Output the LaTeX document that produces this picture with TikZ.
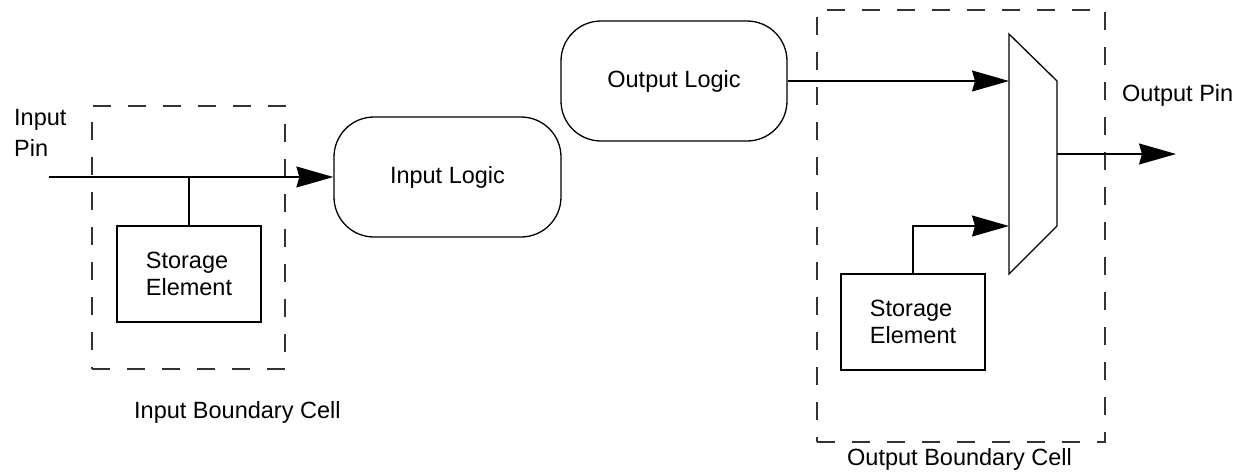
\documentclass[tikz,border=0pt]{standalone}
\usepackage{fontspec}
\setmainfont{Liberation Sans}
\usetikzlibrary{arrows.meta}

\tikzset{
  base/.style={line width=1.3pt, draw=black},
  txt/.style={font=\fontsize{23.5}{27.5}\selectfont, inner sep=0pt},
  logicbox/.style={base, rounded corners=40pt, minimum width=227pt, minimum height=120pt, txt},
  storebox/.style={base, rectangle, minimum width=144pt, minimum height=96pt, txt, align=left},
  cellbox/.style={line width=1.3pt, draw=black!80, dash pattern=on 18pt off 17pt, rectangle},
  wire/.style={base},
  sig/.style={base, -{Stealth[length=37pt, width=21pt, inset=3pt]}},
}

\begin{document}
\begin{tikzpicture}[x=1pt, y=-1pt]
  \useasboundingbox (0,0) rectangle (1248,472);

  % boundary cells
  \node[cellbox, minimum width=193pt, minimum height=263pt] (incell) at (188.5,237.5) {};
  \node[cellbox, minimum width=288pt, minimum height=432pt] (outcell) at (961,226) {};

  % logic blocks
  \node[logicbox] (inlogic) at (447.5,177) {Input Logic};
  \node[logicbox, minimum width=226pt] (outlogic) at (674,81) {Output Logic};

  % storage elements
  \node[storebox] (store1) at (189,274) {Storage\\Element};
  \node[storebox] (store2) at (913,322) {Storage\\Element};

  % output multiplexer
  \draw[base, fill=white] (1009,34) -- (1057,81) -- (1057,226) -- (1009,274) -- cycle;
  \coordinate (muxa) at (1009,81);
  \coordinate (muxb) at (1009,226);
  \coordinate (muxo) at (1057,154);

  % pins
  \coordinate (pinin) at (49,177);
  \coordinate (tap) at (189,177);
  \coordinate (pinout) at (1176,154);

  % labels (base anchor sits on the last line)
  \node[txt, anchor=base west, align=left] (inpinlbl) at (14,156) {Input\\[3pt]Pin};
  \node[txt, anchor=base west] (outpinlbl) at (1122,101) {Output Pin};
  \node[txt, anchor=base west] (incelllbl) at (134,418) {Input Boundary Cell};
  \node[txt, anchor=base west] (outcelllbl) at (847,465) {Output Boundary Cell};

  % connections
  \draw[sig] (pinin) -- (inlogic.west);
  \draw[wire] (tap) -- (store1.north);
  \draw[sig] (outlogic.east) -- (muxa);
  \draw[sig] (store2.north) |- (muxb);
  \draw[sig] (muxo) -- (pinout);
\end{tikzpicture}
\end{document}
